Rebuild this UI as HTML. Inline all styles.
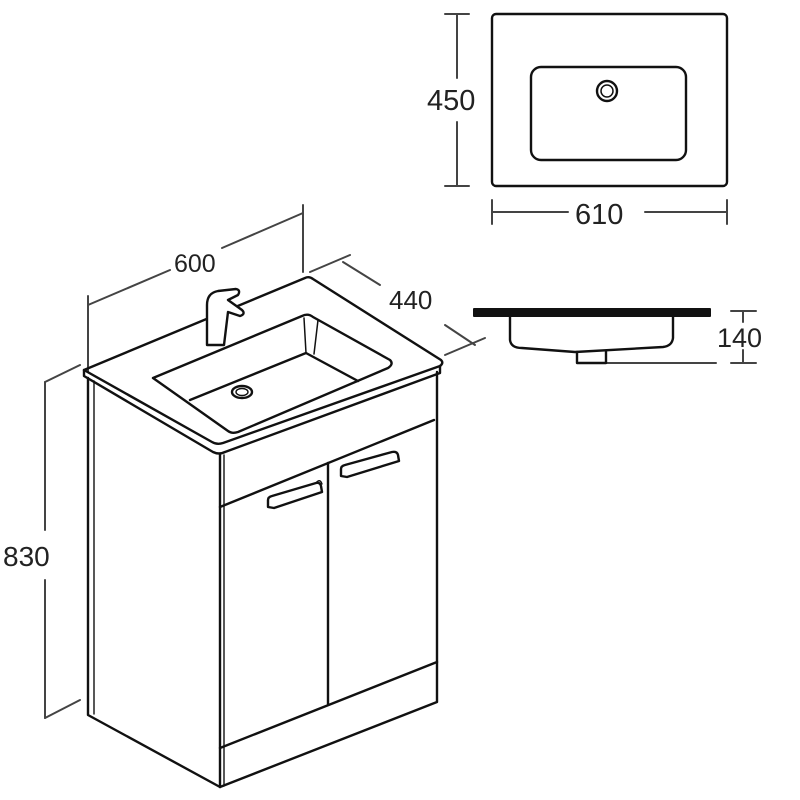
<!DOCTYPE html>
<html><head><meta charset="utf-8"><style>
html,body{margin:0;padding:0;background:#fff}
svg{display:block}
text{font-family:"Liberation Sans",sans-serif;font-size:25px;fill:#222}
</style></head><body>
<svg width="800" height="800" viewBox="0 0 800 800" xmlns="http://www.w3.org/2000/svg">
<g fill="none" stroke="#111" stroke-width="2.4" stroke-linejoin="round" stroke-linecap="round">
<rect x="492" y="14" width="235" height="172" rx="4"/>
<rect x="531" y="67" width="155" height="93" rx="10"/>
<circle cx="607" cy="91" r="10"/>
<circle cx="607" cy="91" r="6" stroke-width="1.5"/>
<g stroke="#444" stroke-width="2">
<line x1="457" y1="14" x2="457" y2="78"/><line x1="457" y1="122" x2="457" y2="186"/>
<line x1="445" y1="14" x2="469" y2="14"/><line x1="445" y1="186" x2="469" y2="186"/>
<line x1="492" y1="212" x2="568" y2="212"/><line x1="645" y1="212" x2="727" y2="212"/>
<line x1="492" y1="200" x2="492" y2="224"/><line x1="727" y1="200" x2="727" y2="224"/>
<line x1="743" y1="311" x2="743" y2="322"/><line x1="743" y1="350" x2="743" y2="363"/>
<line x1="731" y1="311" x2="756" y2="311"/><line x1="731" y1="363" x2="756" y2="363"/>
<line x1="606" y1="363" x2="716" y2="363"/>
<line x1="88" y1="305" x2="170" y2="270"/><line x1="222" y1="248" x2="303" y2="213"/>
<line x1="88" y1="296" x2="88" y2="372"/><line x1="303" y1="205" x2="303" y2="272"/>
<line x1="343" y1="262" x2="380" y2="285"/><line x1="445" y1="325" x2="475" y2="345"/>
<line x1="310" y1="272" x2="350" y2="255"/><line x1="445" y1="355" x2="485" y2="338"/>
<line x1="45" y1="382" x2="45" y2="530"/><line x1="45" y1="580" x2="45" y2="718"/>
<line x1="45" y1="382" x2="80" y2="365"/><line x1="45" y1="718" x2="80" y2="700"/>
</g>
<path d="M474 309 L710 309 L710 316 L474 316 Z" fill="#111" stroke-width="2"/>
<path d="M510 316 L510 340 Q511 348 522 348 L575 352 L663 347 Q672 346 673 338 L673 316"/>
<path d="M577 352 L577 363 L606 363 L606 351"/>
<path d="M84 370 L305 278 Q309 276 313 279 L441 360 Q444 363 440 366 L223 443 Q217 445 212 442 Z"/>
<path d="M84 370 L84 376 L213 452 Q219 455 225 452 L440 373 L440 366"/>
<path d="M153 378 L302 316 Q308 313 313 317 L390 360 Q394 364 388 368 L238 432 Q232 434 228 431 Z"/>
<path d="M190 400 L306 353 L358 381"/>
<path d="M306 353 L304 318 M314 354 L318 320" stroke-width="1.5"/>
<ellipse cx="242" cy="392" rx="10" ry="6"/>
<ellipse cx="242" cy="392" rx="6" ry="3.5" stroke-width="1.4"/>
<path d="M207 345 L207 305 Q207 293 218 291 L236 289 Q241 290 238 295 L228 300 L242 310 Q246 314 240 316 L228 312 L224 345 Z" fill="#fff"/>
<path d="M88 378 L88 715 L220 787 L220 455"/>
<path d="M94 381 L94 714" stroke-width="1.4"/>
<path d="M220 787 L437 702 L437 372"/>
<path d="M224 455 L224 786" stroke-width="1.4"/>
<path d="M220 507 L434 420"/>
<path d="M328 463 L328 704"/>
<path d="M220 748 L437 662"/>
<path d="M268 507 L268 500 Q268 497 272 496 L316 483 Q320 482 321 486 L322 492 L274 508 Z"/>
<path d="M316 483 Q320 478 322 484" stroke-width="1.4"/>
<path d="M341 476 L341 469 Q341 466 345 465 L392 452 Q397 451 398 455 L399 461 L347 477 Z"/>
</g>
<text x="174" y="272">600</text>
<text x="389" y="309" style="font-size:26px">440</text>
<text x="3" y="566" style="font-size:28px">830</text>
<text x="427" y="110" style="font-size:29px">450</text>
<text x="575" y="224" style="font-size:29px">610</text>
<text x="717" y="347" style="font-size:27px">140</text>
</svg>
</body></html>
